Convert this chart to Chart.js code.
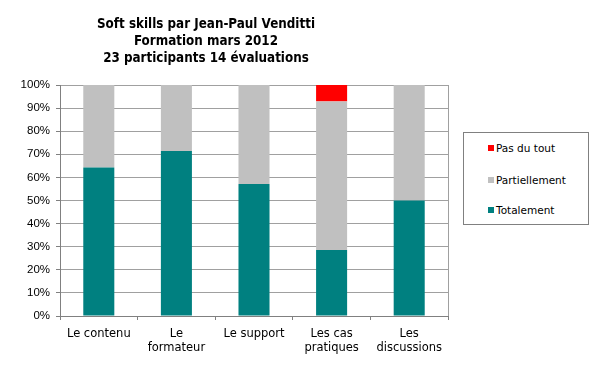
<!DOCTYPE html>
<html lang="fr">
<head>
<meta charset="utf-8">
<title>Soft skills</title>
<script src="https://cdn.jsdelivr.net/npm/chart.js@4/dist/chart.umd.min.js"></script>
<style>
    body { margin: 0; background: #fff; }
    #cadre { position: relative; width: 600px; height: 379px; overflow: hidden; }
    #grafica { position: absolute; left: 0; top: 0; }
    .titre {
        position: absolute; left: 0; width: 412px; text-align: center;
        font-family: "DejaVu Sans Condensed", "DejaVu Sans", sans-serif;
        font-weight: bold; font-size: 13.3px; line-height: 17px; color: #000;
    }
    #legende {
        position: absolute; left: 463px; top: 132px; width: 126px; height: 93px;
        box-sizing: border-box; border: 1px solid #808080; background: #fff;
    }
    .item {
        position: absolute; left: 24px; height: 14px; line-height: 14px;
        font-family: "DejaVu Sans", sans-serif; font-size: 10.5px; color: #000; white-space: nowrap;
    }
    .item span {
        display: inline-block; width: 6px; height: 6px; margin-right: 2px; vertical-align: 1px;
    }
</style>
</head>
<body>
<div id="cadre">
    <canvas id="grafica" width="600" height="379"></canvas>
    <div class="titre" style="top:15px">Soft skills par Jean-Paul Venditti</div>
    <div class="titre" style="top:32px">Formation mars 2012</div>
    <div class="titre" style="top:49px">23 participants 14 évaluations</div>
    <div id="legende"></div>
</div>
<script>
// Données (en % des 14 évaluations)
const categories = [["Le contenu"], ["Le", "formateur"], ["Le support"], ["Les cas", "pratiques"], ["Les", "discussions"]];
const totalement = [64.3, 71.4, 57.1, 28.6, 50.0];
const partiellement = [35.7, 28.6, 42.9, 64.3, 50.0];
const pasDuTout = [0, 0, 0, 7.1, 0];
const ticksY = [0, 10, 20, 30, 40, 50, 60, 70, 80, 90, 100];

const series = [
    { label: "Totalement", data: totalement, color: "#008080" },
    { label: "Partiellement", data: partiellement, color: "#c0c0c0" },
    { label: "Pas du tout", data: pasDuTout, color: "#ff0000" }
];

// Bordure droite de la zone de tracé
const bordureDroite = {
    id: "bordureDroite",
    afterDraw(chart) {
        let a = chart.chartArea;
        let c = chart.ctx;
        c.save();
        c.strokeStyle = "#a0a0a0";
        c.lineWidth = 1;
        c.beginPath();
        c.moveTo(Math.round(a.right) + 0.5, a.top);
        c.lineTo(Math.round(a.right) + 0.5, a.bottom);
        c.stroke();
        c.restore();
    }
};

const ctx = document.getElementById("grafica");
new Chart(ctx, {
    type: "bar",
    data: {
        labels: categories,
        datasets: series.map(s => ({
            label: s.label,
            data: s.data,
            backgroundColor: s.color,
            borderWidth: 0,
            barPercentage: 0.4,
            categoryPercentage: 1
        }))
    },
    options: {
        responsive: false,
        animation: false,
        layout: { padding: { left: 0, right: 152, top: 85, bottom: 0 } },
        plugins: {
            legend: { display: false },
            title: { display: false },
            tooltip: { enabled: false }
        },
        scales: {
            x: {
                stacked: true,
                afterFit: s => { s.height = 63; },
                grid: { drawOnChartArea: false, drawTicks: true, tickLength: 4, color: "#808080", offset: true },
                border: { color: "#808080" },
                ticks: {
                    color: "#000",
                    padding: 7,
                    maxRotation: 0,
                    autoSkip: false,
                    font: { family: "DejaVu Sans", size: 11.5, lineHeight: 1.22 }
                }
            },
            y: {
                stacked: true,
                min: 0,
                max: 100,
                afterFit: s => { s.width = 60; },
                afterBuildTicks: s => { s.ticks = ticksY.map(v => ({ value: v })); },
                grid: { color: "#a0a0a0", tickLength: 4, tickColor: "#808080" },
                border: { color: "#808080" },
                ticks: {
                    color: "#000",
                    padding: 6,
                    font: { family: "Liberation Sans", size: 11.5 },
                    callback: v => v + "%"
                }
            }
        }
    },
    plugins: [bordureDroite]
});

// Légende à droite (ordre inverse de l'empilement)
let legende = document.getElementById("legende");
let hauts = [8, 40, 70];
series.slice().reverse().forEach((s, i) => {
    let d = document.createElement("div");
    d.className = "item";
    d.style.top = hauts[i] + "px";
    d.innerHTML = '<span style="background:' + s.color + '"></span>' + s.label;
    legende.appendChild(d);
});
</script>
</body>
</html>
